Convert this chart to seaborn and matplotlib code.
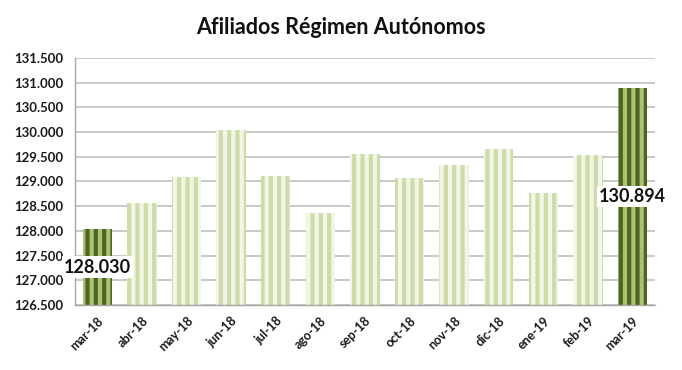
import matplotlib
matplotlib.use("Agg")
import matplotlib.pyplot as plt
import matplotlib.ticker as mticker
import seaborn as sns
import pandas as pd

months = ["mar-18", "abr-18", "may-18", "jun-18", "jul-18", "ago-18", "sep-18",
          "oct-18", "nov-18", "dic-18", "ene-19", "feb-19", "mar-19"]
afiliados = [128030, 128565, 129100, 130045, 129110, 128370, 129560,
             129070, 129335, 129655, 128770, 129545, 130894]
highlight = [True, False, False, False, False, False, False,
             False, False, False, False, False, True]
title = "Afiliados Régimen Autónomos"

sns.set_style("white")
plt.rcParams["font.family"] = ["Lato", "DejaVu Sans"]
plt.rcParams["hatch.linewidth"] = 3.0

df = pd.DataFrame({"mes": months, "valor": afiliados})

fig = plt.figure(figsize=(6.82, 3.70), dpi=100)
ax = fig.add_axes([0.110, 0.176, 0.850, 0.667])

sns.barplot(data=df, x="mes", y="valor", ax=ax, width=0.66, color="#ebf1de",
            linewidth=0, native_scale=False)

BASE = 126500
for p, hl in zip(ax.patches, highlight):
    h = p.get_height()
    p.set_y(BASE)
    p.set_height(h - BASE)
    if hl:
        p.set_facecolor("#a9c46c")
        p.set_edgecolor("#4f6228")
    else:
        p.set_facecolor("#f1f6e6")
        p.set_edgecolor("#cddca8")
    p.set_hatch("||")
    p.set_linewidth(0)

ax.set_ylim(BASE, 131500)
ax.set_xlim(-0.5, len(months) - 0.5)
ax.yaxis.set_major_locator(mticker.MultipleLocator(500))
ax.yaxis.set_major_formatter(mticker.FuncFormatter(lambda v, _: f"{v:,.0f}".replace(",", ".")))
ax.grid(axis="y", color="#bfbfbf", linewidth=1.2)
ax.set_axisbelow(True)

for s in ["top", "right"]:
    ax.spines[s].set_visible(False)
for s in ["left", "bottom"]:
    ax.spines[s].set_color("#a6a6a6")
    ax.spines[s].set_linewidth(1.0)

ax.set_xlabel("")
ax.set_ylabel("")
ax.set_xticks(range(len(months)))
ax.set_xticklabels(months, rotation=45, ha="right", rotation_mode="anchor",
                   fontsize=9, fontweight="bold", color="#1a1a1a")
ax.set_xticks([i - 0.5 for i in range(len(months) + 1)], minor=True)
ax.tick_params(axis="x", which="major", length=0, pad=7)
ax.tick_params(axis="x", which="minor", length=5, color="#a6a6a6", direction="out")
ax.tick_params(axis="y", length=5, color="#a6a6a6", direction="out", labelsize=9.5)
for t in ax.get_yticklabels():
    t.set_fontweight("bold")
    t.set_color("#1a1a1a")

for i, (v, hl) in enumerate(zip(afiliados, highlight)):
    if hl:
        ax.text(i, (v + BASE) / 2, f"{v:,.0f}".replace(",", "."), ha="center", va="center",
                fontsize=13, fontweight="bold", color="#111111",
                bbox=dict(facecolor="white", edgecolor="none", pad=1.5))

fig.text(0.50, 0.925, title, ha="center", va="center", fontsize=15.5, fontweight="bold",
         color="#111111")

fig.savefig("out.png", dpi=100)
